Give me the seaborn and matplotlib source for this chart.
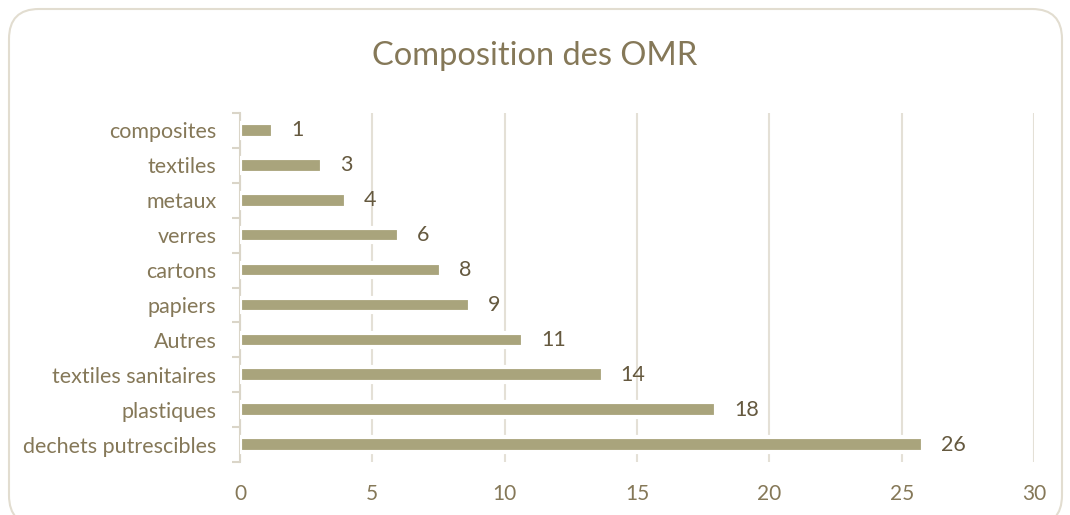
import numpy as np
import matplotlib
matplotlib.use("Agg")
import matplotlib.pyplot as plt
import seaborn as sns
from matplotlib.patches import FancyBboxPatch

# Donnees
categories = ["composites", "textiles", "metaux", "verres", "cartons",
              "papiers", "Autres", "textiles sanitaires", "plastiques",
              "dechets putrescibles"]
valeurs = [1.25, 3.1, 4.0, 6.0, 7.6, 8.7, 10.7, 13.7, 18.0, 25.8]
x_ticks = [0, 5, 10, 15, 20, 25, 30]

BAR = "#A9A47C"
TXT = "#857858"
LBL = "#65593F"
GRID = "#E4E0D6"

sns.set_theme(style="white")
plt.rcParams["font.family"] = ["Lato", "DejaVu Sans"]

fig = plt.figure(figsize=(10.7, 5.15), dpi=100)
ax = fig.add_axes([240 / 1070, 1 - 462 / 515, 794 / 1070, 349 / 515])

sns.barplot(x=valeurs, y=categories, orient="h", color=BAR, width=0.42,
            edgecolor="white", linewidth=3, saturation=1, ax=ax, zorder=3)

# etiquettes de donnees
for c in ax.containers:
    ax.bar_label(c, labels=[f"{v:.0f}" for v in valeurs], padding=13,
                 color=LBL, fontsize=15.5)

ax.set_xlim(0, 30)
ax.set_xticks(x_ticks)
ax.set_ylim(len(categories) - 0.5, -0.5)
ax.xaxis.grid(True, color=GRID, linewidth=1.5, zorder=0)
ax.set_axisbelow(True)
ax.set_xlabel("")
ax.set_ylabel("")

for s in ["top", "right", "bottom"]:
    ax.spines[s].set_visible(False)
ax.spines["left"].set_color("#DAD5C8")
ax.spines["left"].set_linewidth(1.5)

ax.tick_params(axis="x", length=0, pad=16, labelsize=15, labelcolor=TXT)
ax.tick_params(axis="y", which="major", length=0, pad=17, labelsize=15.5,
               labelcolor=TXT)
ax.set_yticks(np.arange(-0.5, len(categories), 1), minor=True)
ax.tick_params(axis="y", which="minor", left=True, length=6, width=1.5,
               color="#DAD5C8", direction="out")

fig.text(0.5, 1 - 56 / 515, "Composition des OMR", ha="center", va="center",
         fontsize=23.5, color=TXT)

# cadre arrondi
cadre = FancyBboxPatch((9 / 1070, -0.02), 1053 / 1070, 1 - 9 / 515 + 0.02,
                       boxstyle="round,pad=0,rounding_size=0.028",
                       transform=fig.transFigure, facecolor="none",
                       edgecolor="#E2DDD0", linewidth=1.5, mutation_aspect=1070 / 515)
fig.patches.append(cadre)

plt.savefig("out.png", dpi=100, facecolor="white")
plt.close()
